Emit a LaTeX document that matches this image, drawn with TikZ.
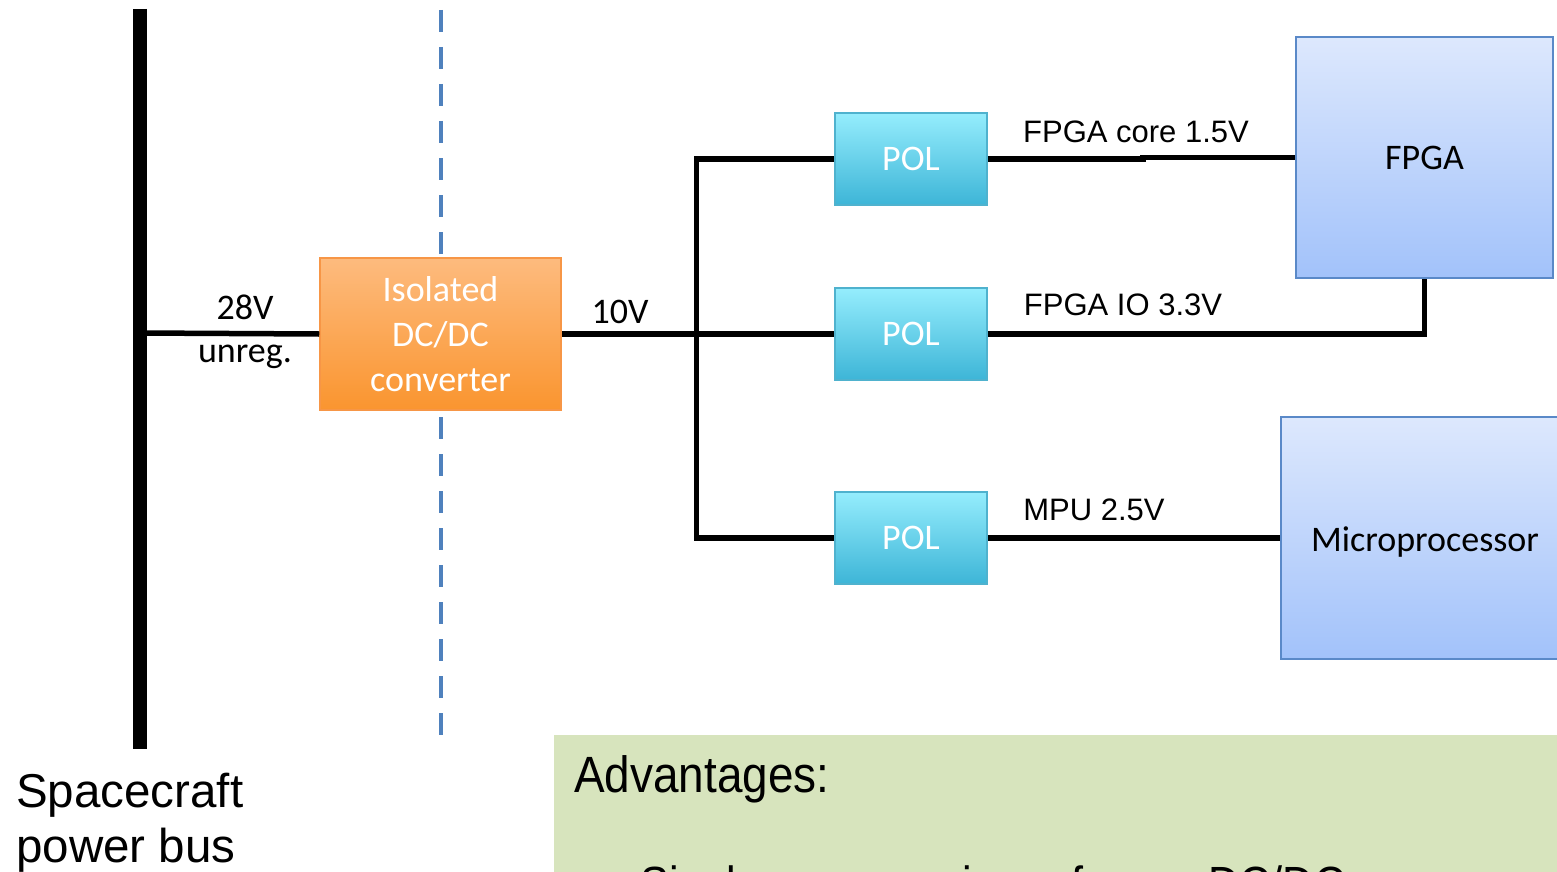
\documentclass[tikz,border=0pt]{standalone}
\usepackage{fontspec}
\setmainfont{Liberation Sans}
\newfontfamily\calfont{Carlito}
\newfontfamily\narrowfont[FakeStretch=0.9]{Liberation Sans}
\definecolor{orTop}{HTML}{FDBB7E}
\definecolor{orBot}{HTML}{FA952F}
\definecolor{orBorder}{HTML}{F79646}
\definecolor{polTop}{HTML}{95EDFD}
\definecolor{polBot}{HTML}{3DB5D7}
\definecolor{polBorder}{HTML}{4FB2CE}
\definecolor{bTop}{HTML}{DDE8FD}
\definecolor{bBot}{HTML}{A2C2FA}
\definecolor{bBorder}{HTML}{5A89C8}
\definecolor{dashBlue}{HTML}{4F81BD}
\definecolor{greenBox}{HTML}{D7E4BD}
\tikzset{
  wire/.style={line width=5.5pt, black},
  calib/.style={font=\calfont\fontsize{36}{45}\selectfont},
  arial/.style={font=\fontsize{31}{37}\selectfont},
  convbox/.style={draw=orBorder, line width=1.5pt, top color=orTop, bottom color=orBot, minimum width=241pt, minimum height=152pt, inner sep=0pt, text=white, align=center, calib},
  polbox/.style={draw=polBorder, line width=1.5pt, top color=polTop, bottom color=polBot, minimum width=152pt, minimum height=92pt, inner sep=0pt, text=white, calib},
  chipbox/.style={draw=bBorder, line width=1.5pt, top color=bTop, bottom color=bBot, inner sep=0pt, text=black, calib},
  lbl/.style={inner sep=0pt}
}
\begin{document}
\begin{tikzpicture}[x=1pt,y=-1pt]
\useasboundingbox (0,0) rectangle (1557,872);
% dashed isolation line
\coordinate (dTop) at (441,10);
\coordinate (dBot) at (441,740);
\draw[dashBlue, line width=4.5pt, dash pattern=on 22pt off 15pt] (dTop) -- (dBot);
% bus
\coordinate (busTop) at (140,9);
\coordinate (busBot) at (140,749);
\draw[line width=14pt] (busTop) -- (busBot);
\coordinate (busTap) at (140,333);
% boxes
\node[convbox] (conv) at (440.5,334) {Isolated\\DC/DC\\converter};
\node[polbox] (pol1) at (911,159) {POL};
\node[polbox] (pol2) at (911,334) {POL};
\node[polbox] (pol3) at (911,538) {POL};
\node[chipbox, minimum width=257pt, minimum height=241pt] (fpga) at (1424.5,157.5) {FPGA};
\node[chipbox, minimum width=288pt, minimum height=242pt, text depth=0pt] (mpu) at (1425,538) {\raisebox{-3pt}{Microprocessor}};
% wires
\draw[wire] (busTap) -- (conv.west);
\draw[wire] (conv.east) -- (pol2.west);
\draw[wire] (pol1.west) -- ++(-138,0) |- (pol3.west);
\draw[wire] (pol1.east) -- ++(155,0) |- (fpga.west);
\draw[wire] (pol2.east) -| (fpga.south);
\draw[wire] (pol3.east) -- (mpu.west);
% labels
\node[lbl, calib] (l28) at (245,307) {28V};
\node[lbl, calib, anchor=base] (lunreg) at (245,362) {unreg.};
\node[lbl, calib] (l10) at (620,312) {10V};
\node[lbl, arial] (lcore) at (1136,132) {FPGA core 1.5V};
\node[lbl, arial] (lio) at (1123,305) {FPGA IO 3.3V};
\node[lbl, arial] (lmpu) at (1094,510) {MPU 2.5V};
% spacecraft power bus
\node[lbl, anchor=base west, font=\fontsize{47.5}{57}\selectfont] (sc1) at (16,807) {Spacecraft};
\node[lbl, anchor=base west, font=\fontsize{47.5}{57}\selectfont] (sc2) at (16,862) {power bus};
% advantages box
\node[lbl, fill=greenBox, minimum width=1020pt, minimum height=200pt, anchor=north west] (adv) at (554,735) {};
\node[lbl, anchor=base west, font=\narrowfont\fontsize{51}{60}\selectfont] (advt) at (574,792) {Advantages:};
\node[lbl, anchor=base west, font=\narrowfont\fontsize{48}{58}\selectfont] (advl) at (640,900) {Single\hspace{39pt} conversion\hspace{39pt} from\hspace{39pt} DC/DC};
\end{tikzpicture}
\end{document}
